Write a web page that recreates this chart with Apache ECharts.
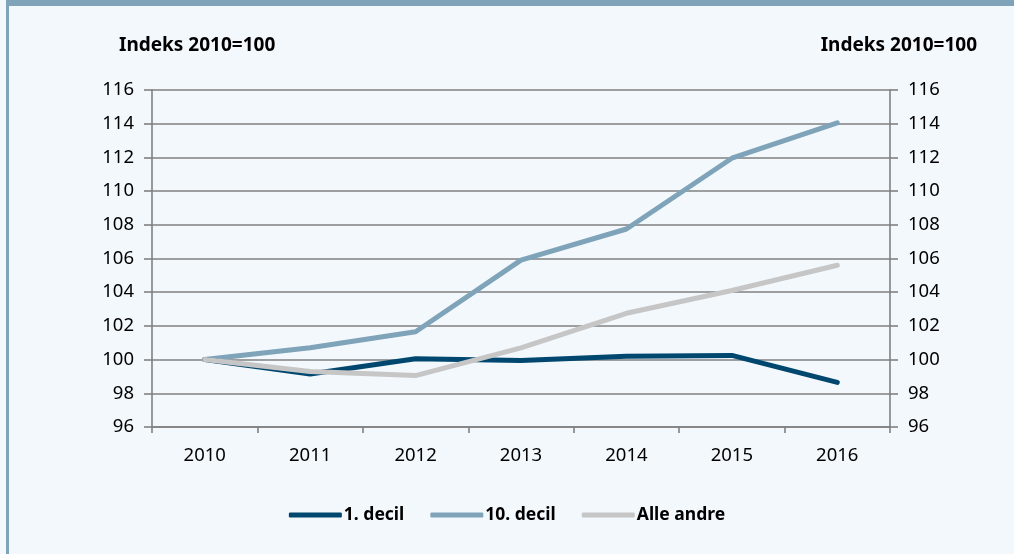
<!DOCTYPE html>
<html>
<head>
<meta charset="utf-8">
<script src="https://cdn.jsdelivr.net/npm/echarts@6/dist/echarts.min.js"></script>
<style>
html,body{margin:0;padding:0;background:#f3f8fd;}
#c{width:1014px;height:554px;}
</style>
</head>
<body>
<div id="c"></div>
<script>
var years = ['2010','2011','2012','2013','2014','2015','2016'];
var decil1 = [100, 99.15, 100.05, 99.95, 100.2, 100.25, 98.65];
var decil10 = [100, 100.7, 101.65, 105.9, 107.75, 111.95, 114.05];
var alleAndre = [100, 99.3, 99.05, 100.7, 102.75, 104.1, 105.6];
var seriesNames = ['1. decil', '10. decil', 'Alle andre'];
var axisTitle = 'Indeks 2010=100';

var FONT = '"Noto Sans", "Open Sans", sans-serif';
var chart = echarts.init(document.getElementById('c'));
var yAxisBase = {
  type: 'value', min: 96, max: 116, interval: 2,
  axisLine: {show: true, lineStyle: {color: '#808080', width: 1.6}},
  axisTick: {show: true, length: 8, lineStyle: {color: '#808080', width: 1.6}},
  axisLabel: {color: '#000', fontSize: 18.5, fontFamily: FONT, margin: 18}
};
chart.setOption({
  backgroundColor: '#f3f8fd',
  animation: false,
  graphic: [
    {type: 'rect', shape: {x: 6, y: 0, width: 1008, height: 6}, style: {fill: '#7fa3b8'}},
    {type: 'rect', shape: {x: 6, y: 0, width: 3, height: 554}, style: {fill: '#7fa3b8'}},
    {type: 'text', left: 119, top: 36, style: {text: axisTitle, font: 'bold 19px ' + FONT, fill: '#000'}},
    {type: 'text', right: 37, top: 36, style: {text: axisTitle, font: 'bold 19px ' + FONT, fill: '#000'}}
  ],
  grid: {left: 152, right: 124, top: 90, bottom: 127},
  legend: {
    bottom: 25, left: 'center',
    itemWidth: 53, itemHeight: 5, itemGap: 26,
    icon: 'roundRect',
    textStyle: {fontFamily: FONT, fontSize: 17.5, fontWeight: 'bold', color: '#000', padding: [0,0,0,-3]},
    data: seriesNames
  },
  xAxis: {
    type: 'category', data: years, boundaryGap: true,
    axisLine: {lineStyle: {color: '#808080', width: 1.6}},
    axisTick: {show: true, length: 6, alignWithLabel: false, lineStyle: {color: '#808080', width: 1.6}},
    axisLabel: {color: '#000', fontSize: 18.5, fontFamily: FONT, margin: 19}
  },
  yAxis: [
    Object.assign({}, yAxisBase, {position: 'left',
      splitLine: {show: true, lineStyle: {color: '#808080', width: 1.6}}}),
    Object.assign({}, yAxisBase, {position: 'right', splitLine: {show: false}})
  ],
  series: [
    {name: seriesNames[0], type: 'line', data: decil1, symbol: 'none', z: 3,
      itemStyle: {color: '#00476f'}, lineStyle: {width: 5, color: '#00476f', cap: 'round', join: 'round'}},
    {name: seriesNames[1], type: 'line', data: decil10, symbol: 'none', z: 2,
      itemStyle: {color: '#7fa3b8'}, lineStyle: {width: 5, color: '#7fa3b8', cap: 'round', join: 'round'}},
    {name: seriesNames[2], type: 'line', data: alleAndre, symbol: 'none', z: 4,
      itemStyle: {color: '#c6c6c6'}, lineStyle: {width: 5, color: '#c6c6c6', cap: 'round', join: 'round'}}
  ]
});
</script>
</body>
</html>
